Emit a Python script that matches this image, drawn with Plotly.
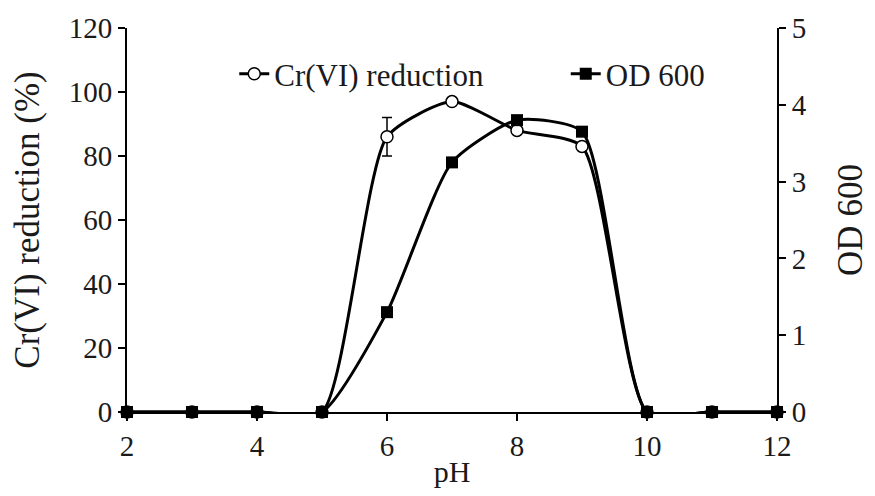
import plotly.graph_objects as go

ph = [2, 3, 4, 5, 6, 7, 8, 9, 10, 11, 12]
cr_reduction = [0, 0, 0, 0, 86, 97, 88, 83, 0, 0, 0]
cr_error = [None, None, None, None, 6, None, None, None, None, None, None]
od600 = [0, 0, 0, 0, 1.3, 3.25, 3.8, 3.65, 0, 0, 0]

FONT = "Liberation Serif"
TXT = "#1a1a1a"
SMOOTH = 0.6

fig = go.Figure()
fig.add_trace(go.Scatter(
    x=ph, y=cr_reduction, name="Cr(VI) reduction", mode="lines+markers",
    line=dict(color="black", width=3, shape="spline", smoothing=SMOOTH),
    marker=dict(symbol="circle", size=12, color="white", line=dict(color="black", width=1.5)),
    error_y=dict(type="data", array=cr_error, visible=True, color="black", thickness=1.5, width=5),
    cliponaxis=False, yaxis="y", legend="legend",
))
fig.add_trace(go.Scatter(
    x=ph, y=od600, name="OD 600", mode="lines+markers",
    line=dict(color="black", width=3, shape="spline", smoothing=SMOOTH),
    marker=dict(symbol="square", size=12, color="black"),
    cliponaxis=False, yaxis="y2", legend="legend2",
))

leg_common = dict(orientation="h", yanchor="middle", y=0.88, xanchor="left",
                  font=dict(size=31, family=FONT, color=TXT),
                  bgcolor="rgba(0,0,0,0)", itemwidth=30)

fig.update_layout(
    width=875, height=496,
    margin=dict(l=127, r=96, t=27, b=84),
    paper_bgcolor="white", plot_bgcolor="white",
    font=dict(family=FONT, size=29, color=TXT),
    showlegend=True,
    legend=dict(x=0.165, **leg_common),
    legend2=dict(x=0.675, **leg_common),
    xaxis=dict(range=[2, 12], tickvals=[2, 4, 6, 8, 10, 12], showgrid=False, zeroline=False,
               showline=True, linecolor="black", linewidth=2, ticks="outside", ticklen=7,
               tickwidth=2, tickcolor="black", title=dict(text="pH", standoff=0, font=dict(size=30)),
               tickfont=dict(size=29)),
    yaxis=dict(range=[0, 120], dtick=20, showgrid=False, zeroline=False, showline=True,
               linecolor="black", linewidth=2, ticks="outside", ticklen=7, tickwidth=2,
               tickcolor="black", title=dict(text="Cr(VI) reduction (%)", standoff=18, font=dict(size=35)),
               tickfont=dict(size=29)),
    yaxis2=dict(range=[0, 5], dtick=1, overlaying="y", side="right", showgrid=False,
                zeroline=False, showline=True, linecolor="black", linewidth=2, ticks="outside",
                ticklen=7, tickwidth=2, tickcolor="black",
                title=dict(text="OD 600", standoff=32, font=dict(size=35)), tickfont=dict(size=29)),
)

fig.write_html("out.html")
